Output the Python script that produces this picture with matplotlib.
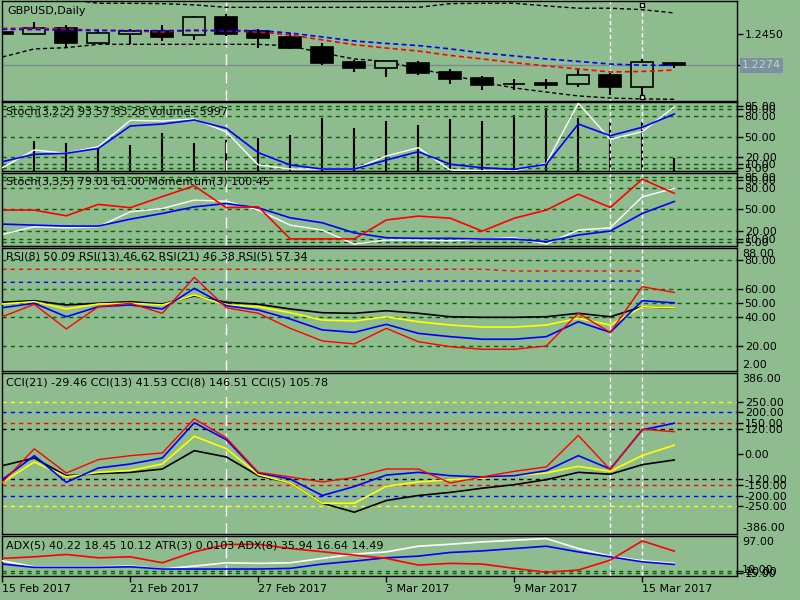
import matplotlib
matplotlib.use("Agg")
import matplotlib.pyplot as plt

W, H = 800, 600
BG = '#8fbc8f'
GRID = '#006400'

dates = ['15 Feb 2017', '16 Feb 2017', '17 Feb 2017', '20 Feb 2017', '21 Feb 2017',
         '22 Feb 2017', '23 Feb 2017', '24 Feb 2017', '27 Feb 2017', '28 Feb 2017',
         '1 Mar 2017', '2 Mar 2017', '3 Mar 2017', '6 Mar 2017', '7 Mar 2017',
         '8 Mar 2017', '9 Mar 2017', '10 Mar 2017', '13 Mar 2017', '14 Mar 2017',
         '15 Mar 2017', '16 Mar 2017']

# GBPUSD daily candles
opens = [1.2463, 1.2454, 1.2484, 1.2399, 1.2454, 1.2467, 1.2444, 1.2550, 1.2468, 1.2435, 1.2378,
         1.2293, 1.2260, 1.2289, 1.2236, 1.2202, 1.2168, 1.2175, 1.2170, 1.2219, 1.2149, 1.2287]
highs = [1.2470, 1.2520, 1.2503, 1.2482, 1.2478, 1.2503, 1.2556, 1.2564, 1.2478, 1.2459, 1.2402,
         1.2304, 1.2301, 1.2298, 1.2253, 1.2213, 1.2196, 1.2196, 1.2253, 1.2232, 1.2308, 1.2293]
lows = [1.2446, 1.2452, 1.2380, 1.2398, 1.2395, 1.2414, 1.2419, 1.2440, 1.2374, 1.2367, 1.2276,
        1.2238, 1.2209, 1.2219, 1.2170, 1.2134, 1.2134, 1.2141, 1.2152, 1.2105, 1.2096, 1.2257]
closes = [1.2453, 1.2484, 1.2402, 1.2457, 1.2467, 1.2436, 1.2547, 1.2454, 1.2431, 1.2374, 1.2289,
          1.2260, 1.2298, 1.2232, 1.2196, 1.2164, 1.2167, 1.2164, 1.2217, 1.2152, 1.2293, 1.2274]
band_upper = [1.2680, 1.2660, 1.2650, 1.2626, 1.2626, 1.2624, 1.2617, 1.2603, 1.2603, 1.2603, 1.2603,
              1.2603, 1.2603, 1.2603, 1.2624, 1.2626, 1.2626, 1.2611, 1.2598, 1.2598, 1.2590, 1.2571]
band_lower = [1.2321, 1.2367, 1.2374, 1.2393, 1.2393, 1.2393, 1.2393, 1.2393, 1.2393, 1.2384, 1.2344,
              1.2310, 1.2296, 1.2253, 1.2219, 1.2179, 1.2145, 1.2122, 1.2100, 1.2088, 1.2083, 1.2081]
ma_red = [1.2484, 1.2484, 1.2480, 1.2474, 1.2469, 1.2463, 1.2474, 1.2469, 1.2463, 1.2446, 1.2418,
          1.2391, 1.2372, 1.2355, 1.2330, 1.2310, 1.2289, 1.2270, 1.2253, 1.2236, 1.2239, 1.2247]
ma_blue = [1.2478, 1.2477, 1.2473, 1.2471, 1.2471, 1.2471, 1.2471, 1.2471, 1.2471, 1.2457, 1.2435,
           1.2412, 1.2398, 1.2386, 1.2367, 1.2344, 1.2327, 1.2310, 1.2296, 1.2281, 1.2274, 1.2274]
last_price = 1.2274
vline_ends = [1.2617, 1.2094]

# Stoch(3,2,2) + volumes
stoch1_main = [4.8, 30.7, 25.8, 35.5, 74.0, 73.0, 76.0, 57.0, 8.8, 2.9, 2.9, 2.9, 21.9, 34.0, 1.5,
               0.3, 0.3, 11.2, 98.8, 46.3, 57.4, 93.57]
stoch1_signal = [13.6, 24.4, 25.8, 33.0, 65.7, 68.6, 74.5, 62.3, 26.7, 8.8, 2.9, 2.9, 16.0, 28.2, 9.8,
                 4.8, 2.4, 9.8, 68.6, 51.5, 63.8, 83.28]
volumes = [15000, 14160, 13070, 11000, 12270, 17790, 13070, 14630, 15720, 16990, 25160,
           20150, 23600, 21710, 24540, 23600, 26430, 29590, 24870, 23270, 23270, 5997]

# Stoch(3,3,5) + Momentum(3)
stoch2_main = [16.0, 26.4, 25.0, 26.4, 46.8, 51.4, 62.8, 61.4, 49.1, 28.6, 21.8, 2.7, 8.2, 8.2, 7.3,
               9.5, 11.3, 2.7, 21.8, 25.0, 67.3, 79.01]
stoch2_signal = [30.0, 28.6, 27.3, 27.3, 36.8, 44.6, 53.6, 58.2, 52.3, 38.6, 31.8, 18.0, 11.3, 10.5,
                 10.5, 9.5, 9.5, 5.9, 15.0, 20.5, 44.6, 61.00]
momentum = [99.89, 99.89, 99.70, 100.08, 99.97, 100.34, 100.70, 99.97, 100.00, 98.93, 98.93,
            98.93, 99.56, 99.69, 99.62, 99.19, 99.62, 99.89, 100.42, 99.98, 100.92, 100.45]

# RSI
rsi8 = [46.7, 49.8, 40.4, 47.4, 48.6, 45.8, 60.2, 48.1, 45.1, 38.8, 31.2, 29.5, 35.1, 28.8, 26.5,
        24.7, 24.7, 26.5, 36.9, 29.5, 51.6, 50.09]
rsi13 = [49.3, 50.9, 45.8, 49.3, 49.8, 48.6, 55.6, 48.6, 47.4, 43.2, 38.1, 37.4, 40.4, 36.9, 34.6,
         33.2, 33.2, 34.6, 39.3, 34.6, 47.4, 46.62]
rsi21 = [50.5, 51.6, 48.6, 49.8, 50.9, 49.3, 54.9, 50.5, 49.1, 45.8, 43.2, 42.8, 44.6, 42.8, 40.4,
         40.0, 40.0, 40.4, 42.8, 40.4, 47.4, 46.38]
rsi5 = [40.4, 49.1, 31.9, 47.4, 49.8, 42.8, 67.9, 46.7, 42.8, 32.3, 23.5, 21.4, 32.3, 23.0, 19.5,
        17.7, 17.7, 20.0, 42.8, 29.5, 61.4, 57.34]
rsi_red_level = [73.5, 73.5, 73.5, 73.5, 73.5, 73.5, 73.5, 73.5, 73.5, 73.5, 73.5,
                 73.5, 73.5, 73.5, 73.5, 73.5, 72.3, 72.3, 72.3, 72.3, 72.3]
rsi_blue_level = [64.4, 64.4, 64.4, 64.4, 64.4, 64.4, 64.4, 64.4, 64.4, 64.4, 64.4,
                  64.4, 64.4, 65.3, 65.3, 65.3, 65.3, 65.3, 65.3, 65.3, 65.3]

# CCI
cci21 = [-57, -20, -105, -95, -89, -73, 15, -15, -105, -140, -237, -280, -224, -200, -185,
         -165, -148, -124, -89, -98, -52, -29.46]
cci13 = [-137, -39, -111, -89, -80, -49, 84, 25, -100, -140, -237, -237, -156, -135, -124,
         -116, -105, -92, -60, -84, -8, 41.53]
cci8 = [-124, -9, -137, -68, -49, -20, 149, 68, -92, -121, -200, -157, -102, -89, -105,
        -111, -105, -81, -9, -73, 115, 146.51]
cci5 = [-137, 24, -92, -28, -9, 4, 168, 77, -89, -111, -135, -113, -73, -73, -140,
        -111, -84, -63, 88, -76, 118, 105.78]

# ADX / ATR
adx_red = [48.2, 51.7, 56.9, 49.5, 51.7, 38.5, 62.6, 78.9, 79.5, 70.0, 63.0, 55.4, 48.2, 33.5,
           37.2, 35.7, 26.2, 17.5, 22.5, 44.4, 86.8, 64.2]
adx_white = [42.9, 29.7, 29.7, 29.7, 31.3, 24.7, 31.3, 38.5, 37.2, 38.5, 48.2, 57.6, 62.6, 75.1,
             79.5, 84.6, 88.3, 92.0, 70.0, 53.2, 42.9, 37.2]
adx_blue = [35.7, 28.4, 28.4, 28.4, 29.7, 24.7, 24.7, 24.7, 24.7, 26.2, 35.7, 42.2, 49.5, 53.2,
            61.3, 64.8, 70.0, 75.1, 62.6, 51.7, 40.7, 35.0]

x = list(range(len(dates)))

plt.rcParams['font.family'] = 'DejaVu Sans'
plt.rcParams['font.size'] = 8
fig = plt.figure(figsize=(8, 6), dpi=100, facecolor=BG)


def right_ticks(ax):
    ax.yaxis.tick_right()
    ax.tick_params(axis='y', direction='out', length=4, width=1, pad=1.5, labelsize=8)


def panel(top, bottom, left=2.3, right=737):
    ax = fig.add_axes([left / W, 1 - bottom / H, (right - left) / W, (bottom - top) / H])
    ax.set_facecolor(BG)
    ax.set_xlim(0, 22.96)
    ax.tick_params(axis='x', bottom=False, labelbottom=False)
    right_ticks(ax)
    for s in ax.spines.values():
        s.set_color('black')
        s.set_linewidth(1)
    return ax


def overlay(ax, lo, hi):
    # second scale in the same window, drawn without its own ticks
    tw = ax.twinx()
    tw.set_ylim(lo, hi)
    tw.set_yticks([])
    tw.set_xlim(0, 22.96)
    right_ticks(ax)
    return tw


def levels(ax, vals, color=GRID):
    for v in vals:
        ax.axhline(v, color=color, ls=(0, (3, 3)), lw=1, zorder=1)


def ticks(ax, vals):
    ax.set_yticks(vals)
    ax.set_yticklabels(['%.2f' % v for v in vals])


def title(ax, text):
    ax.annotate(text, xy=(0, 1), xycoords='axes fraction', xytext=(4, -4),
                textcoords='offset pixels', ha='left', va='top', fontsize=8, zorder=10)


def side_label(ax, text, top=True):
    ax.annotate(text, xy=(1, 1 if top else 0), xycoords='axes fraction',
                xytext=(5, -1 if top else 1), textcoords='offset pixels',
                ha='left', va='top' if top else 'bottom', fontsize=8,
                annotation_clip=False)


def cursor_lines(ax, full=True):
    ax.axvline(7, color='white', ls=(0, (8, 5)), lw=1, zorder=2)
    ax.axvline(19, color='white', ls=(0, (3, 2)), lw=1, zorder=2)
    if full:
        ax.axvline(20, color='white', ls=(0, (3, 2)), lw=1, zorder=2)


dash = (0, (3, 2))

# ---- main price panel
ax = panel(1, 100.5)
ax.set_ylim(1.2074, 1.2639)
ax.axhline(last_price, color='#7f8a90', lw=1, zorder=1)
cursor_lines(ax, full=False)
ax.plot([20, 20], vline_ends, color='white', ls=(0, (3, 2)), lw=1, zorder=2)
ax.plot([20, 20], vline_ends, ls='none', marker='s', ms=3, mfc='white', mec='black', mew=1, zorder=6)
ax.plot(x, band_upper, color='black', ls=dash, lw=1, zorder=3)
ax.plot(x, band_lower, color='black', ls=dash, lw=1, zorder=3)
for i in x:
    o, h, l, c = opens[i], highs[i], lows[i], closes[i]
    ax.vlines(i, l, h, color='black', lw=1.5, zorder=4)
    fill = BG if c > o else 'black'
    ax.bar(i, max(abs(c - o), 0.00003), bottom=min(o, c), width=0.69,
           color=fill, edgecolor='black', lw=1.2, zorder=5)
ax.plot(x, ma_red, color='red', ls=dash, lw=1.2, zorder=6)
ax.plot(x, ma_blue, color='blue', ls=dash, lw=1.2, zorder=6)
ax.set_yticks([1.2450, last_price])
ax.set_yticklabels(['1.2450', ''])
ax.annotate('%.4f' % last_price, xy=(1, last_price), xycoords=('axes fraction', 'data'),
            xytext=(5, 0), textcoords='offset pixels', ha='left', va='center',
            color='#b8dcb4', fontsize=8, annotation_clip=False,
            bbox=dict(boxstyle='square,pad=0.2', fc='#7d8fa3', ec='none'))
ax.annotate('GBPUSD,Daily', xy=(0, 1), xycoords='axes fraction', xytext=(5, -5),
            textcoords='offset pixels', ha='left', va='top', fontsize=8, zorder=10)

# ---- Stoch(3,2,2) + volumes
ax = panel(102.5, 171)
ax.set_ylim(0, 100)
vol_ax = overlay(ax, 0, 32300)
vol_ax.vlines(x, 0, volumes, color='black', lw=1.5)
ax.set_zorder(vol_ax.get_zorder() + 1)
ax.patch.set_visible(False)
levels(ax, [95, 90, 80, 50, 20, 10, 5])
ticks(ax, [95, 90, 80, 50, 20, 10, 5])
cursor_lines(ax)
ax.plot(x, stoch1_main, color='white', lw=1, zorder=4)
ax.plot(x, stoch1_signal, color='blue', lw=1.2, zorder=5)
title(ax, 'Stoch(3,2,2) %.2f %.2f Volumes %d' % (stoch1_main[-1], stoch1_signal[-1], volumes[-1]))

# ---- Stoch(3,3,5) + momentum
ax = panel(173, 246)
ax.set_ylim(0, 100)
levels(ax, [95, 90, 80, 50, 20, 10, 5])
cursor_lines(ax)
ax.plot(x, stoch2_main, color='white', lw=1, zorder=4)
ax.plot(x, stoch2_signal, color='blue', lw=1.2, zorder=5)
mom_ax = overlay(ax, 98.693, 101.127)
mom_ax.plot(x, momentum, color='red', lw=1.2)
ticks(ax, [95, 90, 80, 50, 20, 10, 5])
title(ax, 'Stoch(3,3,5) %.2f %.2f Momentum(3) %.2f' % (stoch2_main[-1], stoch2_signal[-1], momentum[-1]))

# ---- RSI
ax = panel(247.7, 371.3)
ax.set_ylim(2.33, 88.58)
levels(ax, [80, 60, 50, 40, 20])
ticks(ax, [80, 60, 50, 40, 20])
side_label(ax, '88.00', top=True)
side_label(ax, '2.00', top=False)
cursor_lines(ax)
ax.plot(x[:21], rsi_red_level, color='red', ls=(0, (3, 3)), lw=1, zorder=2)
ax.plot(x[:21], rsi_blue_level, color='blue', ls=(0, (3, 3)), lw=1, zorder=2)
ax.plot(x, rsi21, color='black', lw=1.2, zorder=3)
ax.plot(x, rsi13, color='yellow', lw=1.2, zorder=4)
ax.plot(x, rsi8, color='blue', lw=1.2, zorder=5)
ax.plot(x, rsi5, color='red', lw=1, zorder=6)
title(ax, 'RSI(8) %.2f RSI(13) %.2f RSI(21) %.2f RSI(5) %.2f' % (rsi8[-1], rsi13[-1], rsi21[-1], rsi5[-1]))

# ---- CCI
ax = panel(373.3, 534.3)
ax.set_ylim(-386, 386)
for lv, col in [(250, 'yellow'), (200, 'blue'), (150, 'red'), (120, 'black')]:
    levels(ax, [lv, -lv], color=col)
ticks(ax, [250, 200, 150, 120, 0, -120, -150, -200, -250])
side_label(ax, '386.00', top=True)
side_label(ax, '-386.00', top=False)
cursor_lines(ax)
ax.plot(x, cci21, color='black', lw=1.2, zorder=3)
ax.plot(x, cci13, color='yellow', lw=1.2, zorder=4)
ax.plot(x, cci8, color='blue', lw=1.2, zorder=5)
ax.plot(x, cci5, color='red', lw=1, zorder=6)
title(ax, 'CCI(21) %.2f CCI(13) %.2f CCI(8) %.2f CCI(5) %.2f' % (cci21[-1], cci13[-1], cci8[-1], cci5[-1]))

# ---- ADX / ATR
ax = panel(536.3, 575.7)
ax.set_ylim(10, 97)
levels(ax, [20, 15])
ticks(ax, [20, 15])
side_label(ax, '97.00', top=True)
side_label(ax, '10.00', top=False)
cursor_lines(ax)
ax.plot(x, adx_white, color='white', lw=1.2, zorder=3)
ax.plot(x, adx_blue, color='blue', lw=1.2, zorder=4)
ax.plot(x, adx_red, color='red', lw=1.2, zorder=5)
title(ax, 'ADX(5) 40.22 18.45 10.12 ATR(3) 0.0103 ADX(8) 35.94 16.64 14.49')
ax.set_xticks(x[::4])
ax.set_xticklabels(dates[::4])
ax.tick_params(axis='x', bottom=True, labelbottom=True, direction='out', length=4, width=1,
               pad=2, labelsize=8)
for lab in ax.get_xticklabels():
    lab.set_horizontalalignment('left')

fig.savefig('out.png', dpi=100, facecolor=BG)
